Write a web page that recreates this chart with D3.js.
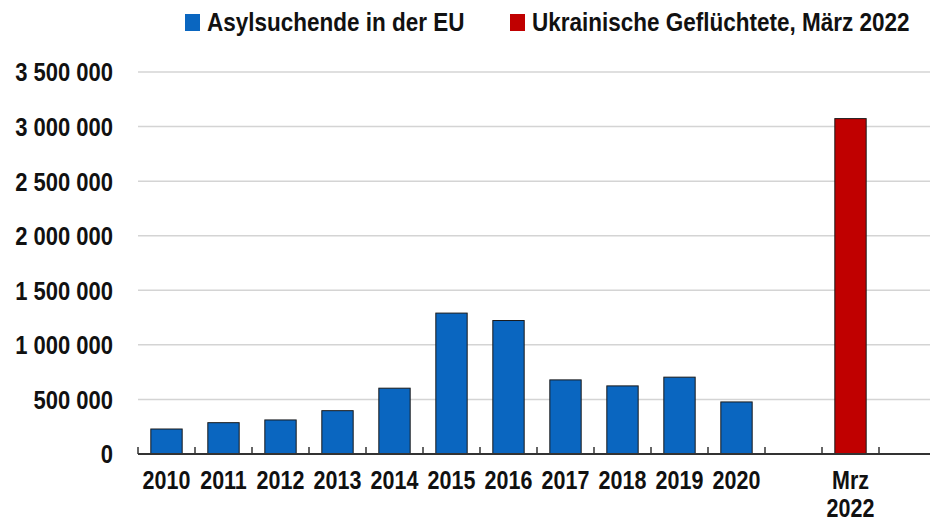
<!DOCTYPE html>
<html lang="de">
<head>
    <meta charset="UTF-8">
    <title>Asylsuchende in der EU</title>
    <style>
        body {
            margin: 0;
            padding: 0;
            background: #fff;
        }

        svg {
            display: block;
            font-family: "Liberation Sans", Arial, sans-serif;
            font-weight: bold;
        }

        .grid line {
            stroke: #d4d4d4;
            stroke-width: 1.5;
        }

        .lbl {
            fill: #111;
        }
    </style>
</head>
<body>
    <div id="chart"></div>

    <script src="https://d3js.org/d3.v7.min.js"></script>
    <script>
        // Daten
        const categories = ["2010", "2011", "2012", "2013", "2014", "2015", "2016", "2017", "2018", "2019", "2020", "leer", "Mrz 2022", "leer2"];
        const tickLabels = ["2010", "2011", "2012", "2013", "2014", "2015", "2016", "2017", "2018", "2019", "2020", "", "Mrz\n2022", ""];
        const asylYears = ["2010", "2011", "2012", "2013", "2014", "2015", "2016", "2017", "2018", "2019", "2020"];
        const asylValues = [229000, 287000, 312000, 397000, 603000, 1291000, 1223000, 679000, 624000, 704000, 477000];
        const ukraineCats = ["Mrz 2022"];
        const ukraineValues = [3073000];
        const yTicks = [0, 500000, 1000000, 1500000, 2000000, 2500000, 3000000, 3500000];
        const seriesNames = ["Asylsuchende in der EU", "Ukrainische Geflüchtete, März 2022"];
        const seriesColors = ["#0a66c0", "#c00000"];

        const width = 930, height = 522;
        const plotLeft = 138, step = 57;
        const plotTop = 72, plotBottom = 454;
        const stretch = 1.2; // Schrift wirkt hoch und schmal

        const svg = d3.select("#chart")
            .append("svg")
            .attr("width", width)
            .attr("height", height);

        const x = d3.scaleBand()
            .domain(categories)
            .range([plotLeft, plotLeft + categories.length * step])
            .paddingInner(0.45)
            .paddingOuter(0.225);

        const y = d3.scaleLinear()
            .domain([0, 3500000])
            .range([plotBottom, plotTop]);

        const fmt = v => d3.format(",")(v).replace(/,/g, " ");

        // Gitterlinien
        svg.append("g")
            .attr("class", "grid")
            .selectAll("line")
            .data(yTicks.filter(d => d > 0))
            .enter()
            .append("line")
            .attr("x1", plotLeft)
            .attr("x2", width)
            .attr("y1", d => y(d))
            .attr("y2", d => y(d));

        // y-Achse (nur Beschriftung)
        const yAxis = svg.append("g")
            .attr("transform", `translate(${plotLeft - 25},0)`)
            .call(d3.axisLeft(y).tickValues(yTicks).tickFormat(fmt).tickSize(0).tickPadding(0));
        yAxis.select(".domain").remove();
        yAxis.attr("font-size", null).attr("font-family", null);
        yAxis.selectAll("text")
            .attr("class", "lbl")
            .attr("fill", null)
            .style("font-size", "22px")
            .attr("dy", "0.34em")
            .attr("transform", `scale(1,${stretch})`);

        // Balken
        const bars = asylYears.map((c, i) => ({ cat: c, value: asylValues[i], color: seriesColors[0] }))
            .concat(ukraineCats.map((c, i) => ({ cat: c, value: ukraineValues[i], color: seriesColors[1] })));

        svg.selectAll(".bar")
            .data(bars)
            .enter()
            .append("rect")
            .attr("class", "bar")
            .attr("x", d => x(d.cat))
            .attr("y", d => y(d.value))
            .attr("width", x.bandwidth())
            .attr("height", d => y(0) - y(d.value))
            .attr("fill", d => d.color)
            .attr("stroke", "#1a1a1a")
            .attr("stroke-width", 1);

        // x-Achse
        const xAxis = svg.append("g")
            .attr("transform", `translate(0,${plotBottom})`);
        xAxis.append("line")
            .attr("x1", plotLeft)
            .attr("x2", width)
            .attr("stroke", "#333")
            .attr("stroke-width", 2);
        xAxis.selectAll(".tk")
            .data(d3.range(categories.length + 1))
            .enter()
            .append("line")
            .attr("class", "tk")
            .attr("x1", i => plotLeft + i * step)
            .attr("x2", i => plotLeft + i * step)
            .attr("y1", 0)
            .attr("y2", -7)
            .attr("stroke", "#333")
            .attr("stroke-width", 1.5);

        xAxis.selectAll(".xl")
            .data(categories)
            .enter()
            .append("g")
            .attr("class", "xl")
            .attr("transform", d => `translate(${x(d) + x.bandwidth() / 2},35)`)
            .each(function (d, i) {
                const lines = tickLabels[i].split("\n");
                lines.forEach((t, j) => {
                    d3.select(this).append("text")
                        .attr("class", "lbl")
                        .attr("text-anchor", "middle")
                        .style("font-size", "21.5px")
                        .attr("transform", `translate(0,${j * 28}) scale(1,${stretch})`)
                        .text(t);
                });
            });

        // Legende
        const legendX = [185, 510];
        const legend = svg.selectAll(".leg")
            .data(seriesNames)
            .enter()
            .append("g")
            .attr("class", "leg")
            .attr("transform", (d, i) => `translate(${legendX[i]},0)`);
        legend.append("rect")
            .attr("x", 0)
            .attr("y", 14)
            .attr("width", 15)
            .attr("height", 17)
            .attr("fill", (d, i) => seriesColors[i]);
        legend.append("text")
            .attr("class", "lbl")
            .style("font-size", "22.5px")
            .attr("transform", `translate(22,31) scale(1,${stretch * 0.98})`)
            .text(d => d);
    </script>
</body>
</html>
